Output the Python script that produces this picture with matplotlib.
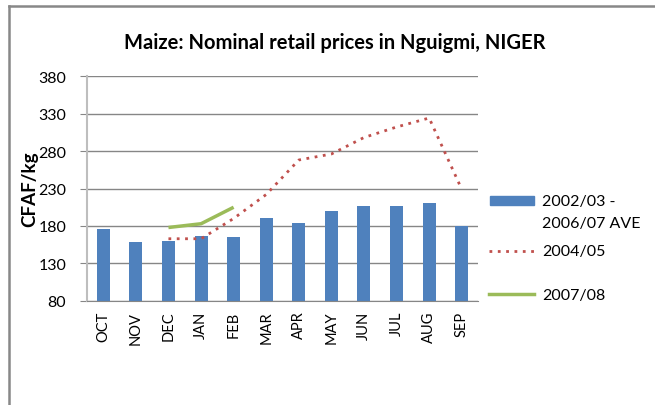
import matplotlib.pyplot as plt
from matplotlib.lines import Line2D
from matplotlib.patches import Rectangle

months = ['OCT', 'NOV', 'DEC', 'JAN', 'FEB', 'MAR', 'APR', 'MAY', 'JUN', 'JUL', 'AUG', 'SEP']
ave_0207 = [176, 158, 160, 167, 165, 190, 184, 200, 207, 207, 210, 180]
y2004_idx = [2, 3, 4, 5, 6, 7, 8, 9, 10, 11]
y2004 = [163, 163, 190, 222, 268, 276, 298, 312, 324, 229]
y2007_idx = [2, 3, 4]
y2007 = [178, 183, 205]
yticks = [80, 130, 180, 230, 280, 330, 380]

plt.rcParams['font.family'] = ['Lato', 'DejaVu Sans']

fig = plt.figure(figsize=(6.55, 4.06), dpi=100)
ax = fig.add_axes([0.1328, 0.2562, 0.597, 0.5541])

x = list(range(len(months)))
ax.bar(x, ave_0207, width=0.4, bottom=0, color='#4F81BD', zorder=2)
ax.plot(y2004_idx, y2004, color='#C0504D', lw=2, linestyle=(0, (1, 2)), zorder=3)
ax.plot(y2007_idx, y2007, color='#9BBB59', lw=2.5, zorder=4, solid_capstyle='butt')

ax.set_xlim(-0.5, 11.5)
ax.set_ylim(80, 380)
ax.set_yticks(yticks)
ax.set_yticklabels([str(v) for v in yticks], fontsize=11.5)
ax.set_xticks(x)
ax.set_xticklabels(months, rotation=90, fontsize=10.5)
ax.tick_params(axis='x', length=0, pad=7)
ax.tick_params(axis='y', length=5, color='#868686', pad=10)
ax.yaxis.grid(True, color='#868686', lw=1, zorder=0)
ax.set_axisbelow(True)
for s in ['top', 'right']:
    ax.spines[s].set_visible(False)
ax.spines['left'].set_color('#BEBEBE')
ax.spines['left'].set_linewidth(1.5)
ax.spines['bottom'].set_color('#868686')
ax.set_ylabel('CFAF/kg', fontsize=13.5, fontweight='bold', labelpad=0)

fig.text(0.511, 1 - 43 / 406, 'Maize: Nominal retail prices in Nguigmi, NIGER',
         ha='center', va='center', fontsize=14.5, fontweight='bold')

# legend drawn by hand, Excel-style spacing
fig.patches.append(Rectangle((490 / 655, 1 - 206 / 406), 44 / 655, 9 / 406,
                             transform=fig.transFigure, color='#4F81BD'))
fig.lines.append(Line2D([489 / 655, 534 / 655], [1 - 252 / 406] * 2, transform=fig.transFigure,
                        color='#C0504D', lw=2, linestyle=(0, (1, 2))))
fig.lines.append(Line2D([489 / 655, 534 / 655], [1 - 295 / 406] * 2, transform=fig.transFigure,
                        color='#9BBB59', lw=2.5))
fig.text(542 / 655, 1 - 202 / 406, '2002/03 -', va='center', fontsize=11.5)
fig.text(542 / 655, 1 - 224 / 406, '2006/07 AVE', va='center', fontsize=11.5)
fig.text(542 / 655, 1 - 252 / 406, '2004/05', va='center', fontsize=11.5)
fig.text(542 / 655, 1 - 296 / 406, '2007/08', va='center', fontsize=11.5)

# outer chart frame (only left and top edges are inside the picture)
fig.lines.append(Line2D([8.5 / 655, 8.5 / 655], [0, 1 - 7 / 406], transform=fig.transFigure,
                        color='#888888', lw=1.8))
fig.lines.append(Line2D([8.5 / 655, 1], [1 - 7 / 406, 1 - 7 / 406], transform=fig.transFigure,
                        color='#888888', lw=1.8))

fig.savefig('out.png', dpi=100)
